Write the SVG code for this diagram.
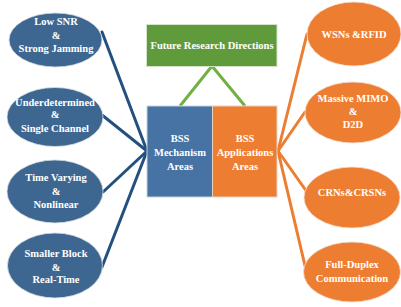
<svg xmlns="http://www.w3.org/2000/svg" width="401" height="307" viewBox="0 0 401 307">
  <defs>
    <style>
      .txt { font-family: "Liberation Serif", "Times New Roman", serif; font-weight: bold; font-size: 10.5px; fill: #ffffff; text-anchor: middle; }
      .blue-node { fill: #3d6791; stroke: #d9dde3; stroke-width: 0.8; }
      .orange-node { fill: #ed7d31; stroke: #f3e2d6; stroke-width: 0.8; }
      .blue-box { fill: #4673a4; stroke: #c9d3df; stroke-width: 1; }
      .orange-box { fill: #ed7d31; stroke: #e8d2c2; stroke-width: 1; }
      .green-box { fill: #609b3b; stroke: #d5e3cb; stroke-width: 1; }
      .shadow { fill: #cfcfcf; opacity: 0.5; }
      .link-blue { stroke: #24507f; stroke-width: 3; fill: none; stroke-linecap: round; }
      .link-orange { stroke: #ed7d31; stroke-width: 3; fill: none; stroke-linecap: round; }
      .link-green { stroke: #72b043; stroke-width: 3; fill: none; }
    </style>
  </defs>

  <rect width="401" height="307" fill="#ffffff"/>

  <!-- connectors -->
  <g id="connectors">
    <line class="link-green" x1="212" y1="66" x2="180" y2="106"/>
    <line class="link-green" x1="212" y1="66" x2="245" y2="106"/>
    <line class="link-blue" x1="102" y1="32" x2="147" y2="151"/>
    <line class="link-blue" x1="102" y1="115" x2="147" y2="151"/>
    <line class="link-blue" x1="103" y1="192" x2="147" y2="151"/>
    <line class="link-blue" x1="102" y1="267" x2="147" y2="151"/>
    <line class="link-orange" x1="307" y1="34" x2="278" y2="151"/>
    <line class="link-orange" x1="305" y1="112" x2="278" y2="151"/>
    <line class="link-orange" x1="307" y1="192" x2="278" y2="151"/>
    <line class="link-orange" x1="306" y1="270" x2="278" y2="151"/>
  </g>

  <!-- central boxes -->
  <g id="future-research">
    <rect class="green-box" x="146.5" y="24.5" width="130.5" height="42"/>
    <text class="txt" x="212" y="49">Future Research Directions</text>
  </g>
  <g id="bss-mechanism">
    <rect class="blue-box" x="147" y="106" width="65.5" height="91"/>
    <text class="txt" x="180" y="142">BSS</text>
    <text class="txt" x="180" y="156">Mechanism</text>
    <text class="txt" x="180" y="170">Areas</text>
  </g>
  <g id="bss-applications">
    <rect class="orange-box" x="212.5" y="106" width="64.5" height="91"/>
    <text class="txt" x="245" y="142">BSS</text>
    <text class="txt" x="245" y="156">Applications</text>
    <text class="txt" x="245" y="170">Areas</text>
  </g>

  <!-- mechanism challenges -->
  <g id="low-snr">
    <ellipse class="blue-node" cx="55.5" cy="40" rx="46.5" ry="27"/>
    <text class="txt" x="56" y="25">Low SNR</text>
    <text class="txt" x="56" y="39">&amp;</text>
    <text class="txt" x="56" y="52">Strong Jamming</text>
  </g>
  <g id="underdetermined">
    <ellipse class="blue-node" cx="55" cy="117" rx="48" ry="29.5"/>
    <text class="txt" x="55" y="106">Underdetermined</text>
    <text class="txt" x="55" y="118">&amp;</text>
    <text class="txt" x="55" y="132">Single Channel</text>
  </g>
  <g id="time-varying">
    <ellipse class="blue-node" cx="55" cy="191.5" rx="48" ry="31.5"/>
    <text class="txt" x="56" y="181">Time Varying</text>
    <text class="txt" x="56" y="195">&amp;</text>
    <text class="txt" x="56" y="208">Nonlinear</text>
  </g>
  <g id="smaller-block">
    <ellipse class="blue-node" cx="55" cy="265.5" rx="47.5" ry="32.5"/>
    <text class="txt" x="56" y="257">Smaller Block</text>
    <text class="txt" x="56" y="271">&amp;</text>
    <text class="txt" x="56" y="283">Real-Time</text>
  </g>

  <!-- application areas -->
  <g id="wsns-rfid">
    <ellipse class="orange-node" cx="354" cy="34" rx="47" ry="32"/>
    <text class="txt" x="354" y="38">WSNs &amp;RFID</text>
  </g>
  <g id="massive-mimo">
    <ellipse class="orange-node" cx="353" cy="112.5" rx="48" ry="30.5"/>
    <text class="txt" x="353" y="102">Massive MIMO</text>
    <text class="txt" x="353" y="115">&amp;</text>
    <text class="txt" x="353" y="128">D2D</text>
  </g>
  <g id="crns-crsns">
    <ellipse class="orange-node" cx="352" cy="197.5" rx="48" ry="30.5"/>
    <text class="txt" x="352" y="196">CRNs&amp;CRSNs</text>
  </g>
  <g id="full-duplex">
    <ellipse class="orange-node" cx="352" cy="272" rx="48.5" ry="30"/>
    <text class="txt" x="352" y="268">Full-Duplex</text>
    <text class="txt" x="352" y="282">Communication</text>
  </g>
</svg>
